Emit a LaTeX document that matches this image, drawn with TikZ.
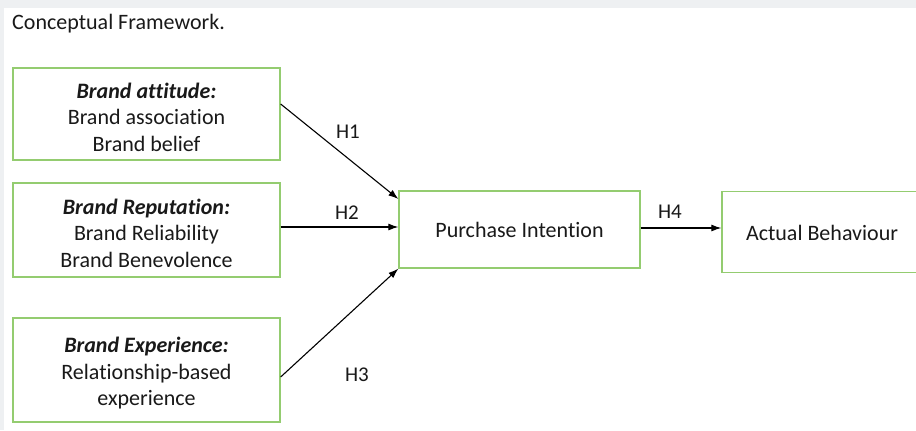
\documentclass[tikz,border=0pt]{standalone}
\usepackage{fontspec}
\setmainfont{Carlito}[Ligatures=NoCommon]
\usetikzlibrary{arrows.meta}
\definecolor{boxgreen}{RGB}{148,204,112}
\definecolor{textcol}{RGB}{25,25,25}
\definecolor{pagegray}{RGB}{238,240,242}
\newcommand\padtop{\rule{0pt}{22bp}}
\tikzset{
  factor/.style={draw=boxgreen,line width=1.3bp,fill=white,align=center,
    text=textcol,inner sep=0bp,font=\fontsize{22bp}{26.5bp}\selectfont},
  link/.style={-{Latex[length=10bp,width=7bp]},line width=1.1bp,black},
  hyp/.style={text=textcol,font=\fontsize{21bp}{24bp}\selectfont},
}
\begin{document}
\begin{tikzpicture}[x=1bp,y=-1bp]
%%
  \useasboundingbox (0,0) rectangle (916,430);
  \fill[pagegray] (0,0) rectangle (916,430);
  \fill[white] (4,8) rectangle (916,430);
  \node[anchor=west,inner sep=0bp,text=textcol,font=\fontsize{22bp}{24bp}\selectfont] (title) at (12,24) {Conceptual Framework.};
  % Node: attitude
  \node[factor,minimum width=267bp,minimum height=92bp] (attitude) at (146.5,114)
    {\padtop\textbf{\textit{Brand attitude:}}\\Brand association\\Brand belief};
  % Node: reputation
  \node[factor,minimum width=267bp,minimum height=94bp] (reputation) at (146.5,230)
    {\padtop\textbf{\textit{Brand Reputation:}}\\Brand Reliability\\Brand Benevolence};
  % Node: experience
  \node[factor,minimum width=267bp,minimum height=104bp] (experience) at (146.5,370)
    {\padtop\textbf{\textit{Brand Experience:}}\\Relationship-based\\experience};
  % Node: intention
  \node[factor,minimum width=241bp,minimum height=77bp] (intention) at (519.5,229.5) {Purchase Intention};
  % Node: behaviour
  \node[factor,minimum width=200bp,minimum height=81bp] (behaviour) at (822,232) {};
  \node[text=textcol,inner sep=0bp,font=\fontsize{22bp}{24bp}\selectfont] (behaviourtext) at (822,233) {Actual Behaviour};
  % Edge: attitude -> intention
  \draw[link] (attitude.east |- 0,104) -- (intention.west |- 0,199);
  \node[hyp] (h1) at (348,132) {H1};
  % Edge: reputation -> intention
  \draw[link] (reputation.east |- 0,227) -- (intention.west |- 0,227);
  \node[hyp] (h2) at (347,213) {H2};
  % Edge: experience -> intention
  \draw[link] (experience.east |- 0,377) -- (intention.south west);
  \node[hyp] (h3) at (357,375) {H3};
  % Edge: intention -> behaviour
  \draw[link] (intention.east |- 0,228) -- (behaviour.west |- 0,228);
  \node[hyp] (h4) at (670,212) {H4};
%
\end{tikzpicture}
\end{document}
